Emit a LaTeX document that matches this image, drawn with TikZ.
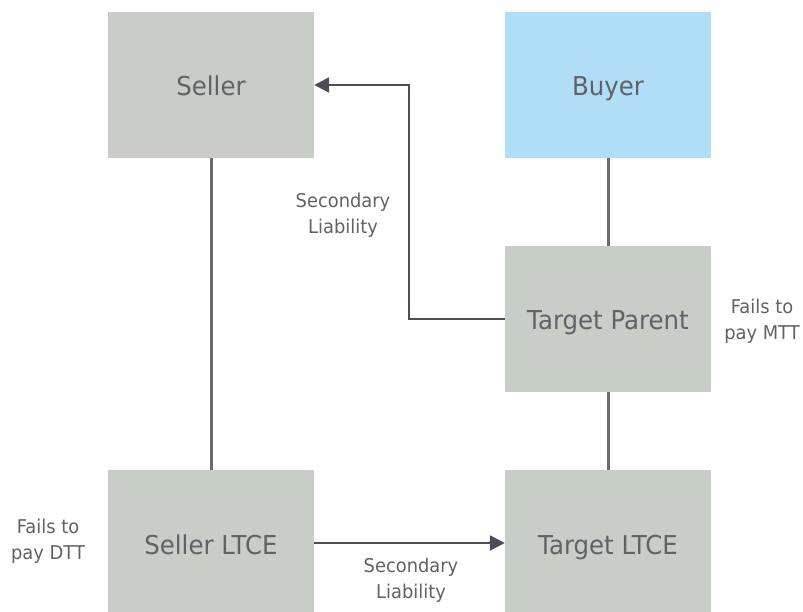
\documentclass[tikz,border=0pt]{standalone}
\usepackage{fontspec}
\setmainfont{DejaVu Sans}[FakeStretch=0.94]
\usetikzlibrary{arrows.meta}
\definecolor{boxgray}{HTML}{C9CDC8}
\definecolor{boxblue}{HTML}{B0DEF7}
\definecolor{txtgray}{HTML}{606266}
\definecolor{linkgray}{HTML}{6B6B6D}
\definecolor{arrowgray}{HTML}{4B4C58}
\tikzset{
  entity/.style={rectangle, fill=boxgray, minimum width=206pt, minimum height=146pt,
    inner sep=0pt, text=txtgray, text height=22pt, text depth=0pt,
    font=\fontsize{26pt}{30pt}\selectfont},
  note/.style={align=center, text=txtgray, inner sep=0pt,
    font=\fontsize{19pt}{26pt}\selectfont},
  link/.style={draw=linkgray, line width=3pt},
  liability/.style={draw=arrowgray, line width=2.5pt,
    -{Triangle[length=15pt,width=15pt]}},
}
\begin{document}
\begin{tikzpicture}[x=1pt,y=-1pt]
  \useasboundingbox (0,0) rectangle (803,612);
  \begin{scope}
    \clip (0,0) rectangle (803,612);
    \node[entity] (seller) at (211,85) {Seller};
    \node[entity, fill=boxblue] (buyer) at (608,85) {Buyer};
    \node[entity] (parent) at (608,319) {Target Parent};
    \node[entity] (sltce) at (211,543) {Seller LTCE};
    \node[entity] (tltce) at (608,543) {Target LTCE};
  \end{scope}

  % ownership links
  \draw[link] (seller.south) -- (sltce.north);
  \draw[link] (buyer.south) -- (parent.north);
  \draw[link] (parent.south) -- (tltce.north);

  % secondary liability arrows
  \coordinate (bend) at (409,319);
  \draw[liability] (parent.west) -- (bend) |- (seller.east);
  \draw[liability] (sltce.east) -- (tltce.west);

  % annotations
  \node[note] (secA) at (343,215) {Secondary\\Liability};
  \node[note] (mtt) at (762,321) {Fails to\\pay MTT};
  \node[note] (dtt) at (48,541) {Fails to\\pay DTT};
  \node[note] (secB) at (411,580) {Secondary\\Liability};
\end{tikzpicture}
\end{document}
